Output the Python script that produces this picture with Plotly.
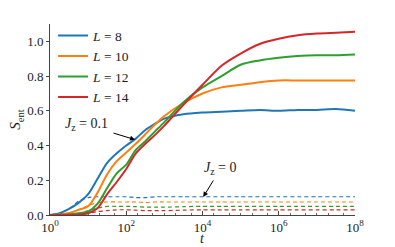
import plotly.graph_objects as go

# time grid (log-spaced points)
t = [1, 1.78, 3.16, 5.62, 10, 17.8, 31.6, 56.2, 100, 178, 316, 562, 1000,
     3162, 1e4, 3.16e4, 1e5, 3.16e5, 1e6, 3.16e6, 1e7, 3.16e7, 1e8]

labels = ["<i>L</i> = 8", "<i>L</i> = 10", "<i>L</i> = 12", "<i>L</i> = 14"]
colors = ["#1f77b4", "#ff7f0e", "#2ca02c", "#d62728"]

# J_z = 0.1 (solid)
s_L8 = [0, 0.01, 0.035, 0.07, 0.12, 0.21, 0.30, 0.355, 0.40, 0.44, 0.49, 0.525, 0.555,
        0.58, 0.59, 0.595, 0.60, 0.605, 0.60, 0.605, 0.605, 0.61, 0.60]
s_L10 = [0, 0.003, 0.012, 0.03, 0.05, 0.13, 0.235, 0.31, 0.36, 0.41, 0.465, 0.52, 0.57,
         0.645, 0.70, 0.735, 0.75, 0.765, 0.775, 0.775, 0.775, 0.775, 0.775]
s_L12 = [0, 0.001, 0.003, 0.01, 0.02, 0.065, 0.155, 0.24, 0.29, 0.375, 0.425, 0.48, 0.535,
         0.65, 0.735, 0.80, 0.865, 0.89, 0.905, 0.915, 0.92, 0.92, 0.925]
s_L14 = [0, 0, 0.001, 0.003, 0.01, 0.04, 0.12, 0.19, 0.265, 0.355, 0.41, 0.46, 0.515,
         0.635, 0.75, 0.86, 0.93, 0.985, 1.015, 1.035, 1.045, 1.05, 1.055]

# J_z = 0 (dashed)
d_L8 = [0, 0.01, 0.035, 0.08, 0.10, 0.105, 0.105, 0.105, 0.105, 0.10, 0.10, 0.105, 0.105,
        0.105, 0.105, 0.105, 0.105, 0.105, 0.105, 0.105, 0.105, 0.105, 0.105]
d_L10 = [0, 0.003, 0.01, 0.03, 0.055, 0.07, 0.075, 0.075, 0.075, 0.075, 0.072, 0.075, 0.075,
         0.075, 0.075, 0.075, 0.075, 0.075, 0.075, 0.075, 0.075, 0.075, 0.075]
d_L12 = [0, 0.001, 0.003, 0.01, 0.025, 0.04, 0.05, 0.05, 0.05, 0.048, 0.045, 0.045, 0.045,
         0.048, 0.05, 0.05, 0.05, 0.05, 0.05, 0.05, 0.05, 0.05, 0.05]
d_L14 = [0, 0, 0.001, 0.004, 0.01, 0.02, 0.025, 0.03, 0.03, 0.028, 0.025, 0.025, 0.025,
         0.028, 0.03, 0.03, 0.03, 0.03, 0.03, 0.03, 0.03, 0.03, 0.03]

solid = [s_L8, s_L10, s_L12, s_L14]
dashed = [d_L8, d_L10, d_L12, d_L14]

xtick_vals = [1, 1e2, 1e4, 1e6, 1e8]
xtick_text = ["10<sup>0</sup>", "10<sup>2</sup>", "10<sup>4</sup>", "10<sup>6</sup>", "10<sup>8</sup>"]
ytick_vals = [0, 0.2, 0.4, 0.6, 0.8, 1.0]
ytick_text = ["0.0", "0.2", "0.4", "0.6", "0.8", "1.0"]

FONT = "Liberation Serif, DejaVu Serif, serif"

fig = go.Figure()
for ys, c in zip(dashed, colors):
    fig.add_trace(go.Scatter(x=t, y=ys, mode="lines", showlegend=False,
                             line=dict(color=c, width=1.2, dash="4px,3px",
                                       shape="spline", smoothing=0.6)))
for ys, c, name in zip(solid, colors, labels):
    fig.add_trace(go.Scatter(x=t, y=ys, mode="lines", name=name,
                             line=dict(color=c, width=2, shape="spline", smoothing=0.8)))

fig.update_layout(
    width=395, height=247,
    margin=dict(l=50, r=40, t=24, b=32),
    paper_bgcolor="white", plot_bgcolor="white",
    font=dict(family=FONT, size=13, color="#222"),
    showlegend=True,
    legend=dict(x=0.01, y=1.02, xanchor="left", yanchor="top",
                bgcolor="rgba(0,0,0,0)", font=dict(size=13.5),
                tracegroupgap=0, itemwidth=30),
    xaxis=dict(type="log", range=[0, 8], showgrid=False, zeroline=False, automargin=False,
               showline=True, linecolor="#444", linewidth=1,
               tickvals=xtick_vals, ticktext=xtick_text, ticks="inside",
               ticklen=4, tickcolor="#444",
               minor=dict(ticks="inside", ticklen=2, tickcolor="#666", showgrid=False),
               tickfont=dict(size=13)),
    yaxis=dict(range=[0, 1.1], showgrid=False, zeroline=False, automargin=False,
               showline=True, linecolor="#444", linewidth=1,
               tickvals=ytick_vals, ticktext=ytick_text, ticks="outside",
               ticklen=3, tickcolor="#444", tickfont=dict(size=13),
               title=dict(text="<i>S</i><sub>ent</sub>", font=dict(size=15), standoff=2)),
)

# x-axis title placed below the tick labels
fig.add_annotation(xref="paper", yref="paper", x=0.5, y=-0.165, yanchor="bottom",
                   text="<i>t</i>", showarrow=False, font=dict(size=14), borderpad=0)

# annotations
fig.add_annotation(x=0.95, y=0.52, text="<i>J</i><sub>z</sub> = 0.1", showarrow=False,
                   font=dict(size=14))
fig.add_annotation(x=2.23, y=0.434, ax=-23, ay=-7, text="", showarrow=True,
                   arrowhead=2, arrowsize=1, arrowwidth=1, arrowcolor="black")
fig.add_annotation(x=4.46, y=0.27, text="<i>J</i><sub>z</sub> = 0", showarrow=False,
                   font=dict(size=14))
fig.add_annotation(x=4.02, y=0.104, ax=11, ay=-18, text="", showarrow=True,
                   arrowhead=2, arrowsize=1, arrowwidth=1, arrowcolor="black")

fig.write_html("out.html", config={"displayModeBar": False},
               post_script="document.body.style.margin='0';")
